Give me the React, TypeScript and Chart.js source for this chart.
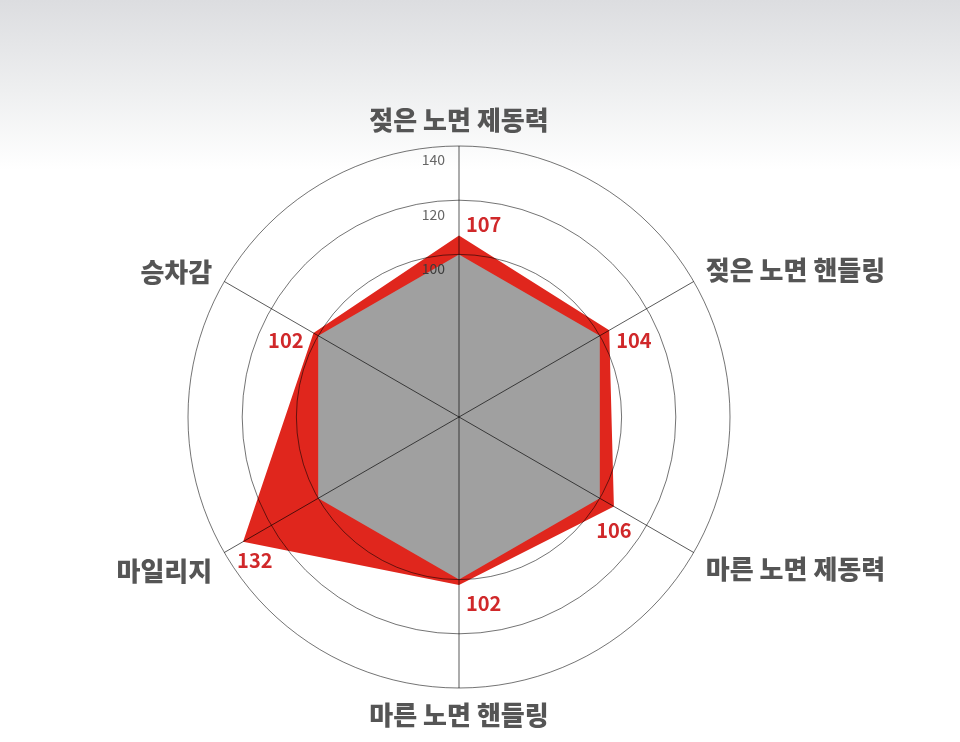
import { useEffect, useRef } from 'react';
import { Chart, registerables } from 'chart.js';

Chart.register(...registerables);

// axes, clockwise from the top
const categories = [
  '젖은 노면 제동력',
  '젖은 노면 핸들링',
  '마른 노면 제동력',
  '마른 노면 핸들링',
  '마일리지',
  '승차감',
];
const tireValues = [107, 104, 106, 102, 132, 102];
const baseValues = [100, 100, 100, 100, 100, 100];
const tickValues = [100, 120, 140];
const scaleMin = 40;
const scaleMax = 140;

const KR_FONT = '"Noto Sans CJK KR", "Noto Sans", sans-serif';

// where each axis name and value label sits (presentation only)
const nameAlign: CanvasTextAlign[] = ['center', 'left', 'left', 'center', 'right', 'right'];
const nameDy = [-12, -4, 10, 13, 12, -2];
const valueAlign: CanvasTextAlign[] = ['left', 'left', 'center', 'left', 'left', 'right'];
const valueDx = [7, 7, 0, 7, -6, -10];
const valueDy = [-11, 10, 24, 18, 19, 7];

const labelPlugin = {
  id: 'radarLabels',
  afterDraw(chart: Chart) {
    const scale: any = chart.scales.r;
    const ctx = chart.ctx;
    const D = scale.drawingArea;
    ctx.save();
    ctx.textBaseline = 'middle';

    // tick labels, left of the vertical spoke
    ctx.font = `14px ${KR_FONT}`;
    ctx.textAlign = 'right';
    tickValues.forEach((v) => {
      const r = scale.getDistanceFromCenterForValue(v);
      ctx.fillStyle = v <= 100 ? '#3c3c3c' : '#666666';
      ctx.fillText(String(v), scale.xCenter - 14, scale.yCenter - r + 14);
    });

    // axis names
    ctx.font = `900 26px ${KR_FONT}`;
    ctx.fillStyle = '#555555';
    categories.forEach((name, i) => {
      const p = scale.getPointPosition(i, D + 14);
      ctx.textAlign = nameAlign[i];
      ctx.fillText(name, p.x, p.y + nameDy[i]);
    });

    // value labels
    ctx.font = `bold 20px ${KR_FONT}`;
    ctx.fillStyle = '#d0282a';
    tireValues.forEach((v, i) => {
      const p = scale.getPointPosition(i, scale.getDistanceFromCenterForValue(v));
      ctx.textAlign = valueAlign[i];
      ctx.fillText(String(v), p.x + valueDx[i], p.y + valueDy[i]);
    });
    ctx.restore();
  },
};

function RadarChart() {
  const canvasRef = useRef<HTMLCanvasElement | null>(null);

  useEffect(() => {
    if (!canvasRef.current) return;
    const chart = new Chart(canvasRef.current, {
      type: 'radar',
      data: {
        labels: categories,
        datasets: [
          {
            label: '기준',
            data: baseValues,
            backgroundColor: '#a0a0a0',
            borderColor: 'transparent',
            borderWidth: 0,
            pointRadius: 0,
            fill: 'start',
          },
          {
            label: '제품',
            data: tireValues,
            backgroundColor: '#e0261d',
            borderColor: 'transparent',
            borderWidth: 0,
            pointRadius: 0,
            fill: 'start',
          },
        ],
      },
      options: {
        animation: false,
        responsive: true,
        maintainAspectRatio: false,
        layout: { padding: { top: 146, left: 188, right: 230, bottom: 54 } },
        plugins: {
          legend: { display: false },
          tooltip: { enabled: false },
        },
        scales: {
          r: {
            min: scaleMin,
            max: scaleMax,
            ticks: { stepSize: 20, display: false },
            pointLabels: { display: false },
            grid: {
              circular: true,
              z: 1,
              lineWidth: 1,
              color: (c: any) =>
                c.tick && c.tick.value >= 100 ? 'rgba(0,0,0,0.55)' : 'transparent',
            },
            angleLines: { color: 'rgba(0,0,0,0.65)', lineWidth: 1 },
          },
        },
      } as any,
      plugins: [labelPlugin],
    });

    return () => chart.destroy();
  }, []);

  return <canvas ref={canvasRef}></canvas>;
}

export default function App() {
  return (
    <div
      style={{
        position: 'fixed',
        left: 0,
        top: 0,
        width: 960,
        height: 742,
        background: 'linear-gradient(to bottom, #dcdde0 0px, #eeeff0 90px, #ffffff 170px)',
      }}
    >
      <RadarChart />
    </div>
  );
}
